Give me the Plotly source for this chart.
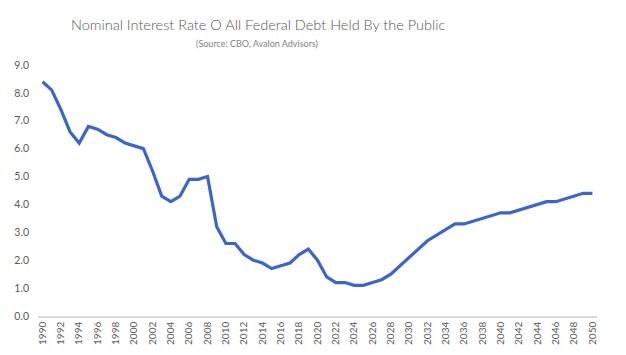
import plotly.graph_objects as go

years = list(range(1990, 2051))
rates = [8.4, 8.1, 7.4, 6.6, 6.2, 6.8, 6.7, 6.5, 6.4, 6.2,
         6.1, 6.0, 5.2, 4.3, 4.1, 4.3, 4.9, 4.9, 5.0, 3.2,
         2.6, 2.6, 2.2, 2.0, 1.9, 1.7, 1.8, 1.9, 2.2, 2.4,
         2.0, 1.4, 1.2, 1.2, 1.1, 1.1, 1.2, 1.3, 1.5, 1.8,
         2.1, 2.4, 2.7, 2.9, 3.1, 3.3, 3.3, 3.4, 3.5, 3.6,
         3.7, 3.7, 3.8, 3.9, 4.0, 4.1, 4.1, 4.2, 4.3, 4.4,
         4.4]
x_ticks = list(range(1990, 2051, 2))
y_ticks = [0, 1, 2, 3, 4, 5, 6, 7, 8, 9]

title = "Nominal Interest Rate O All Federal Debt Held By the Public"
subtitle = "(Source: CBO, Avalon Advisors)"

W, H = 626, 355
ml, mr, mt, mb = 38, 29, 65, 39
pw = W - ml - mr
ph = H - mt - mb
FONT = "Lato, Open Sans, sans-serif"

fig = go.Figure()
fig.add_trace(go.Scatter(x=years, y=rates, mode="lines",
                         line=dict(color="#3B65C8", width=3.2), hoverinfo="x+y"))

fig.update_layout(
    width=W, height=H,
    margin=dict(l=ml, r=mr, t=mt, b=mb, autoexpand=False),
    plot_bgcolor="white", paper_bgcolor="white",
    showlegend=False,
    font=dict(family=FONT, color="#595959"),
    xaxis=dict(range=[1989.5, 2050.5], tickmode="array", tickvals=x_ticks,
               ticktext=[str(v) for v in x_ticks], tickangle=-90,
               tickfont=dict(size=10, color="#595959"), showgrid=False,
               showline=True, linecolor="#D9D9D9", linewidth=1.5,
               zeroline=False, ticks="", automargin=False, fixedrange=True),
    yaxis=dict(range=[0, 9], tickmode="array", tickvals=y_ticks,
               ticktext=[f"{v:.1f}" for v in y_ticks],
               tickfont=dict(size=10.5, color="#595959"), showgrid=False,
               showline=False, zeroline=False, ticks="", ticklabelstandoff=8,
               automargin=False, fixedrange=True),
    annotations=[
        dict(text=title, x=(258 - ml) / pw, y=(H - mb - 25) / ph,
             xref="paper", yref="paper",
             xanchor="center", yanchor="middle", showarrow=False,
             font=dict(size=14.5, color="#555555", family=FONT, weight=300)),
        dict(text=subtitle, x=(257 - ml) / pw, y=(H - mb - 43) / ph,
             xref="paper", yref="paper",
             xanchor="center", yanchor="middle", showarrow=False,
             font=dict(size=9, color="#7F7F7F", family=FONT)),
    ],
)

fig.write_html("out.html",
               config={"displayModeBar": False},
               post_script="document.body.style.margin='0';document.body.style.overflow='hidden';")
